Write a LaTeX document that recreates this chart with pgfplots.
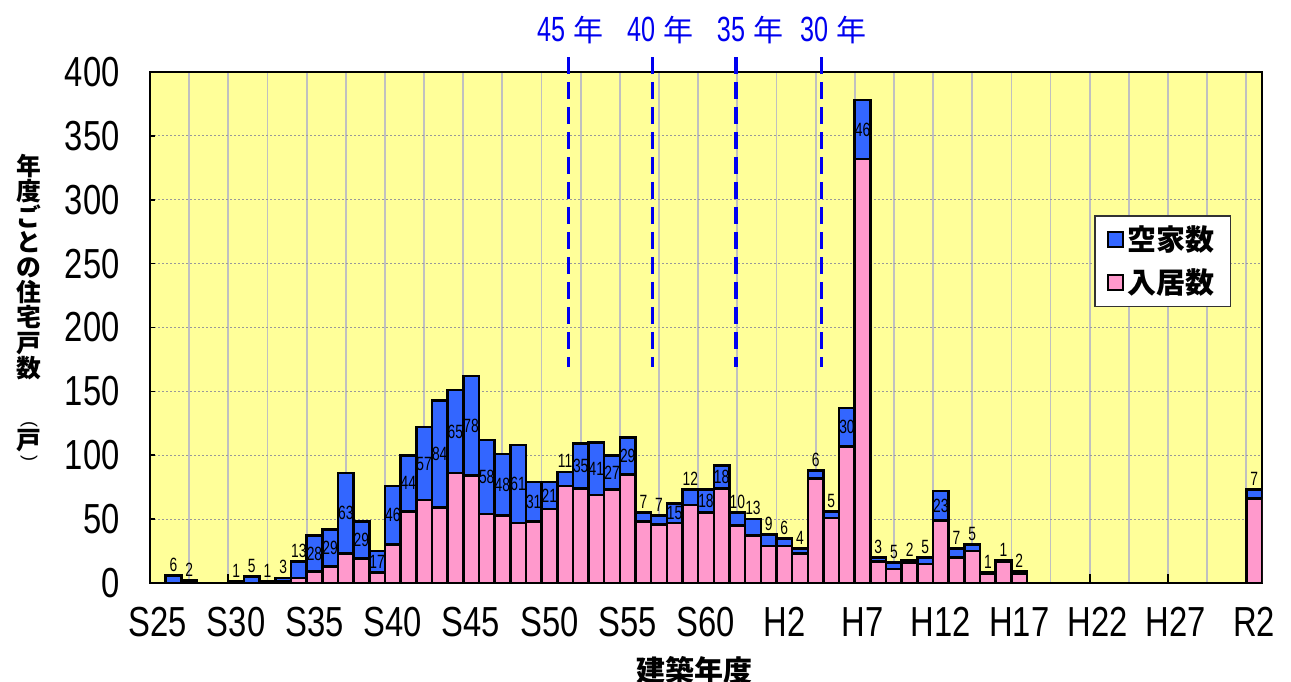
\documentclass[border=0pt]{standalone}
\usepackage{pgfplots}
\pgfplotsset{compat=1.18}
\usepackage{pgfplotstable}
\usepackage{fontspec}
\setmainfont{Liberation Sans}
\newfontfamily\tickfont[FakeStretch=0.78]{Liberation Sans}
\newfontfamily\lblfont[FakeStretch=0.72]{Liberation Sans}
\newfontfamily\bluefont[FakeStretch=0.72]{Liberation Sans}
\newfontfamily\jp{Noto Sans CJK JP}
\definecolor{bgy}{RGB}{255,255,153}
\definecolor{bblue}{RGB}{51,102,255}
\definecolor{bpink}{RGB}{255,153,204}
\definecolor{txtblue}{RGB}{0,0,240}
\definecolor{vgrid}{RGB}{192,192,192}

\pgfplotstableread{
x pink blue
1 0 6
2 0 2
5 0 1
6 0 5
7 0 1
8 1 3
9 4 13
10 9 28
11 13 29
12 23 63
13 19 29
14 8 17
15 30 46
16 56 44
17 65 57
18 59 84
19 86 65
20 84 78
21 54 58
22 53 48
23 47 61
24 48 31
25 58 21
26 76 11
27 74 35
28 69 41
29 73 27
30 85 29
31 48 7
32 46 7
33 47 15
34 61 12
35 55 18
36 74 18
37 45 10
38 37 13
39 29 9
40 29 6
41 23 4
42 82 6
43 51 5
44 107 30
45 332 46
46 17 3
47 11 5
48 16 2
49 15 5
50 49 23
51 20 7
52 25 5
53 7 1
54 17 1
55 7 2
70 66 7
}\bars

\pgfplotstableread{
x y l
10 23 28
11 27.5 29
12 54.5 63
13 33.5 29
14 16.5 17
15 53 46
16 78 44
17 93.5 57
18 101 84
19 118.5 65
20 123 78
21 83 58
22 77 48
23 77.5 61
24 63.5 31
25 68.5 21
27 91.5 35
28 89.5 41
29 86.5 27
30 99.5 29
33 54.5 15
35 64 18
36 83 18
44 122 30
45 355 46
50 60.5 23
}\lblcenter

\pgfplotstableread{
x y l
1 6 6
2 2 2
5 1 1
6 5 5
7 1 1
8 4 3
9 17 13
26 87 11
31 55 7
32 53 7
34 73 12
37 55 10
38 50 13
39 38 9
40 35 6
41 27 4
42 88 6
43 56 5
46 20 3
47 16 5
48 18 2
49 20 5
51 27 7
52 30 5
53 8 1
54 18 1
55 9 2
70 73 7
}\lblabove

\newcommand{\yr}[1]{{\bluefont\fontsize{17.5bp}{18bp}\selectfont #1}\hspace{4bp}{\jp\fontsize{15bp}{15bp}\selectfont 年}}

\begin{document}
\begin{tikzpicture}
\fill[white] (-75bp,-49.5bp) rectangle (570.5bp,291.5bp);
\begin{axis}[
  at={(0,0)}, anchor=south west,
  scale only axis, width=556bp, height=255.5bp,
  xmin=-0.5, xmax=70.5, ymin=0, ymax=400,
  ybar stacked, bar width=1,
  axis background/.style={fill=bgy},
  axis line style={line width=1.2bp, black},
  xtick={0,5,...,70},
  xticklabels={S25,S30,S35,S40,S45,S50,S55,S60,H2,H7,H12,H17,H22,H27,R2},
  xtick style={draw=none},
  minor xtick={2,4.5,...,69.5},
  minor tick length=0pt,
  xminorgrids=true,
  minor x grid style={vgrid, line width=0.9bp},
  ytick={0,50,...,400},
  ytick pos=left, xtick pos=bottom,
  tick align=inside,
  major tick length=2.5bp,
  ytick style={black, line width=0.8bp},
  ymajorgrids=true,
  major y grid style={gray!80, line width=0.6bp, dash pattern=on 1bp off 1bp},
  /pgf/number format/assume math mode=true,
  ticklabel style={font=\tickfont\fontsize{21bp}{21bp}\selectfont},
  yticklabel style={anchor=east, inner sep=0pt, xshift=-15bp},
  xticklabel style={anchor=north, inner sep=0pt, yshift=-12bp},
  reverse legend,
  legend style={at={(0.849,0.720)}, anchor=north west, draw=black!80, line width=0.8bp, fill=white,
    font=\jp\bfseries\fontsize{14.5bp}{15bp}\selectfont, inner xsep=6bp, inner ysep=3bp, row sep=3.5bp,
    cells={anchor=west}},
]
\addplot[fill=bpink, draw=black, line width=1.3bp,
  legend image code/.code={\draw[fill=bpink, draw=black, line width=0.9bp] (0bp,-3.75bp) rectangle (7.5bp,3.75bp);}]
  table[x=x, y=pink] {\bars};
\addplot[fill=bblue, draw=black, line width=1.3bp,
  legend image code/.code={\draw[fill=bblue, draw=black, line width=0.9bp] (0bp,-3.75bp) rectangle (7.5bp,3.75bp);}]
  table[x=x, y=blue] {\bars};
\legend{入居数,空家数}
\end{axis}
\begin{axis}[
  at={(0,0)}, anchor=south west,
  scale only axis, width=556bp, height=255.5bp,
  xmin=-0.5, xmax=70.5, ymin=0, ymax=400,
  axis x line*=bottom, hide y axis,
  x axis line style={draw=none},
  xtick={4.5,9.5,...,69.5}, xticklabels={},
  tick align=inside, major tick length=4.5bp,
  xtick style={black, line width=1bp},
  clip=false,
]
\addplot[txtblue, line width=1.6bp, dash pattern=on 8.5bp off 4bp] coordinates {(26.21,411.7) (26.21,169)};
\addplot[txtblue, line width=1.6bp, dash pattern=on 8.5bp off 4bp] coordinates {(31.57,411.7) (31.57,169)};
\addplot[txtblue, line width=1.6bp, dash pattern=on 8.5bp off 4bp] coordinates {(36.91,411.7) (36.91,169)};
\addplot[txtblue, line width=1.6bp, dash pattern=on 8.5bp off 4bp] coordinates {(42.39,411.7) (42.39,169)};
\addplot[only marks, mark=*, mark size=0pt, mark options={draw=none, fill=none},
  nodes near coords, point meta=explicit symbolic,
  every node near coord/.append style={anchor=center, inner sep=0pt, font=\lblfont\fontsize{9.6bp}{10bp}\selectfont, black}]
  table[x=x, y=y, meta=l] {\lblcenter};
\addplot[only marks, mark=*, mark size=0pt, mark options={draw=none, fill=none},
  nodes near coords, point meta=explicit symbolic,
  every node near coord/.append style={anchor=south, inner sep=0pt, yshift=1.8bp, font=\lblfont\fontsize{9.6bp}{10bp}\selectfont, black}]
  table[x=x, y=y, meta=l] {\lblabove};
\node[text=txtblue, inner sep=0pt] at (axis cs:26.32,432.9) {\yr{45}};
\node[text=txtblue, inner sep=0pt] at (axis cs:32.07,432.9) {\yr{40}};
\node[text=txtblue, inner sep=0pt] at (axis cs:37.81,432.9) {\yr{35}};
\node[text=txtblue, inner sep=0pt] at (axis cs:43.11,432.9) {\yr{30}};
\end{axis}
\node[anchor=north, inner sep=0pt, align=center, font=\jp\bfseries\fontsize{12.4bp}{12.6bp}\selectfont] at (-60.5bp,214.5bp) {年\\度\\ご\\と\\の\\住\\宅\\戸\\数};
\node[inner sep=0pt, font=\jp\bfseries\fontsize{12.4bp}{12.6bp}\selectfont] at (-60.5bp,71bp) {戸};
\node[inner sep=0pt, rotate=-90, font=\fontsize{9bp}{9bp}\selectfont] at (-60.5bp,79.5bp) {(};
\node[inner sep=0pt, rotate=-90, font=\fontsize{9bp}{9bp}\selectfont] at (-60.5bp,62.5bp) {)};
\node[inner sep=0pt, font=\jp\bfseries\fontsize{14.5bp}{15bp}\selectfont] at (272bp,-43.5bp) {建築年度};
\pgfresetboundingbox
\useasboundingbox (-75bp,-49.5bp) rectangle (570.5bp,291.5bp);
\end{tikzpicture}
\end{document}
